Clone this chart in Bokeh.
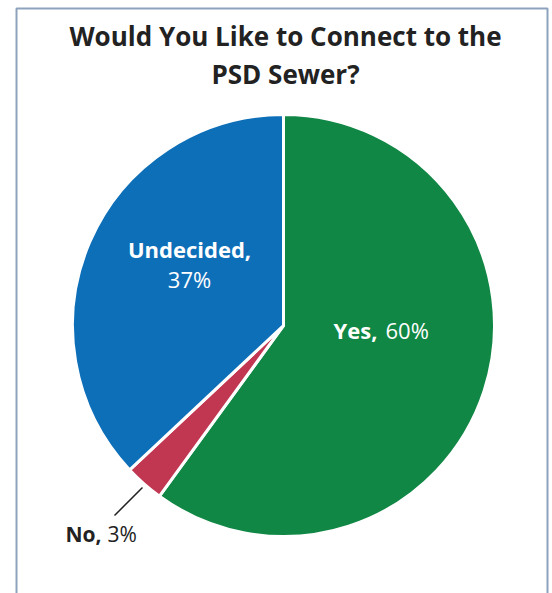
import numpy as np
from bokeh.plotting import figure
from bokeh.models import Range1d, ColumnDataSource
from bokeh.core.properties import value
from bokeh.embed import file_html
from bokeh.resources import INLINE

categories = ["Yes", "No", "Undecided"]
percents = [60, 3, 37]
colors = ["#108744", "#c13752", "#0e6fb9"]
title_lines = ["Would You Like to Connect to the", "PSD Sewer?"]

W, H = 552, 593
p = figure(width=W, height=H, output_backend="svg", toolbar_location=None,
           x_range=Range1d(0, W), y_range=Range1d(0, H), min_border=0)
p.axis.visible = False
p.grid.visible = False
p.outline_line_color = None
p.background_fill_color = "white"
p.border_fill_color = "white"

vals = np.array(percents, dtype=float)
frac = vals / vals.sum()
cum = np.concatenate([[0], np.cumsum(frac)])
start = np.deg2rad(90 - cum[:-1] * 360)
end = np.deg2rad(90 - cum[1:] * 360)
src = ColumnDataSource(dict(cat=categories, start=start, end=end, color=colors))

def sy(y):
    return H - y

DY = 9  # text baseline correction

cx, cy, r = 283, sy(325), 211
p.wedge(x=cx, y=cy, radius=r, start_angle="start", end_angle="end",
        direction="clock", fill_color="color", line_color="white",
        line_width=3, source=src)

# frame border
p.line(x=[16, 16, 547, 547], y=[-5, sy(8), sy(8), -5], line_color="#8da2bd", line_width=2)

font = value("Open Sans")
# title
p.text(x=[285, 285], y=[sy(44 - DY), sy(82 - DY)], text=title_lines, text_font=font,
       text_font_style="bold", text_font_size="26px", text_align="center",
       text_baseline="alphabetic", text_color="#222222")

# Undecided label
p.text(x=[189], y=[sy(257 - DY)], text=[f"{categories[2]},"], text_font=font,
       text_font_style="bold", text_font_size="22px", text_align="center",
       text_baseline="alphabetic", text_color="white")
p.text(x=[189], y=[sy(287 - DY)], text=[f"{percents[2]}%"], text_font=font,
       text_font_size="22px", text_align="center",
       text_baseline="alphabetic", text_color="white")

# Yes label
p.text(x=[377], y=[sy(338 - DY)], text=[f"{categories[0]},"], text_font=font,
       text_font_style="bold", text_font_size="22px", text_align="right",
       text_baseline="alphabetic", text_color="white")
p.text(x=[385], y=[sy(338 - DY)], text=[f"{percents[0]}%"], text_font=font,
       text_font_size="22px", text_align="left",
       text_baseline="alphabetic", text_color="white")

# No label with leader
p.segment(x0=[142], y0=[sy(487)], x1=[114], y1=[sy(515)], line_color="#222222", line_width=1.5)
p.text(x=[101], y=[sy(542 - DY)], text=[f"{categories[1]},"], text_font=font,
       text_font_style="bold", text_font_size="21px", text_align="right",
       text_baseline="alphabetic", text_color="#222222")
p.text(x=[107], y=[sy(542 - DY)], text=[f"{percents[1]}%"], text_font=font,
       text_font_size="21px", text_align="left",
       text_baseline="alphabetic", text_color="#222222")

open("out.html", "w").write(file_html(p, INLINE))
